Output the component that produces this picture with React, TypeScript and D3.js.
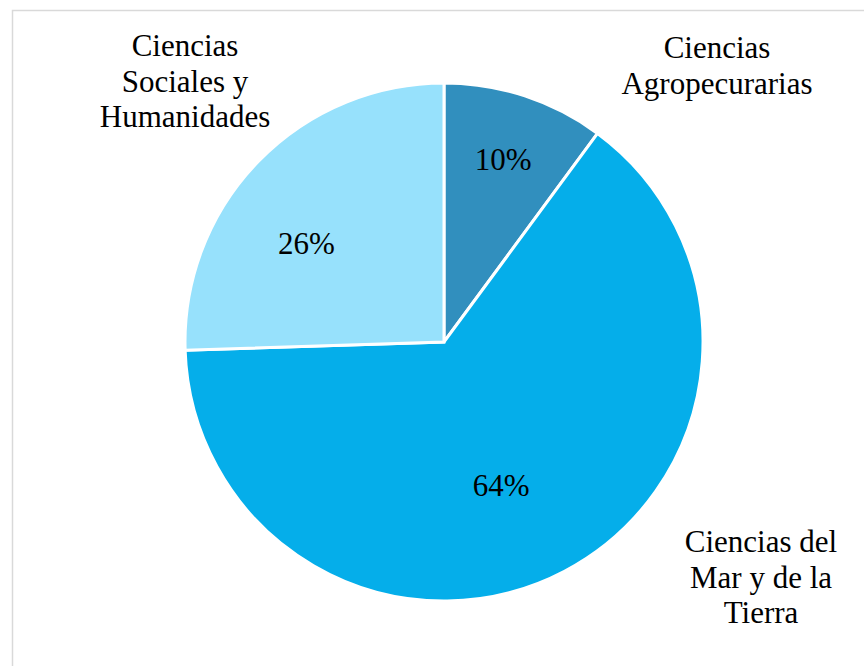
import React from "react";
import * as d3 from "d3";

const categories = ["Ciencias Agropecurarias", "Ciencias del Mar y de la Tierra", "Ciencias Sociales y Humanidades"];
const values = [10.1, 64.4, 25.5];
const pctLabels = ["10%", "64%", "26%"];
const colors = ["#318FBE", "#05AEEA", "#97E1FC"];
const catLines = [
  ["Ciencias", "Agropecurarias"],
  ["Ciencias del", "Mar y de la", "Tierra"],
  ["Ciencias", "Sociales y", "Humanidades"],
];

const W = 864, H = 666;
const cx = 444, cy = 342, R = 259;
const FONT = "Liberation Serif";
const FS = 31;

const catPos = [
  { x: 717, y: 58 },
  { x: 761, y: 552 },
  { x: 185, y: 56 },
];
const lineH = 35.5;

export default function App() {
  const pie = d3.pie<number>().sort(null).value((d) => d)(values);
  const arc = d3.arc<d3.PieArcDatum<number>>().innerRadius(0).outerRadius(R);
  const labelArc = d3.arc<d3.PieArcDatum<number>>().innerRadius(R * 0.6).outerRadius(R * 0.6);
  const pctOffsets = [
    [10.6, -34.7],
    [-15, 6],
    [-26, 10],
  ];
  return (
    <>
      <style>{`body{margin:0}`}</style>
      <svg width={W} height={H} style={{ display: "block" }}>
        <rect x={0} y={0} width={W} height={H} fill="#fff" />
        <rect x={12.5} y={10.5} width={W} height={H} fill="none" stroke="#d9d9d9" strokeWidth={1.5} />
        <g transform={`translate(${cx},${cy})`}>
          {pie.map((p, i) => (
            <path key={i} d={arc(p) || ""} fill={colors[i]} stroke="#fff" strokeWidth={3} strokeLinejoin="miter" />
          ))}
          {pie.map((p, i) => {
            const [lx, ly] = labelArc.centroid(p);
            return (
              <text
                key={"p" + i}
                x={lx + pctOffsets[i][0]}
                y={ly + pctOffsets[i][1]}
                textAnchor="middle"
                dominantBaseline="central"
                fontFamily={FONT}
                fontSize={FS}
                fill="#000"
              >
                {pctLabels[i]}
              </text>
            );
          })}
        </g>
        {catLines.map((lines, i) => (
          <text key={"c" + i} textAnchor="middle" fontFamily={FONT} fontSize={FS} fill="#000">
            {lines.map((l, j) => (
              <tspan key={j} x={catPos[i].x} y={catPos[i].y + j * lineH}>
                {l}
              </tspan>
            ))}
          </text>
        ))}
      </svg>
    </>
  );
}
